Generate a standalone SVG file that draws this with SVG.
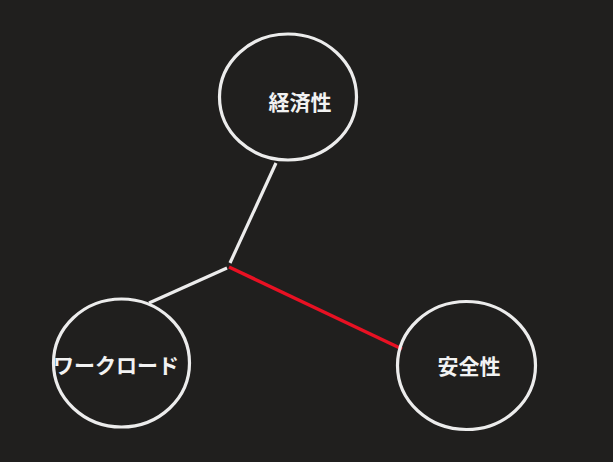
<svg xmlns="http://www.w3.org/2000/svg" width="613" height="462" viewBox="0 0 613 462">
<style>
.node{fill:none;stroke:#ececec;stroke-width:3.2}
.lbl{font-family:"Noto Sans CJK JP","Noto Sans",sans-serif;font-size:21px;font-weight:bold;fill:#f2f2f2;text-anchor:middle;dominant-baseline:central}
.edge{stroke:#ececec;stroke-width:3.2;fill:none}
.hot{stroke:#e81123;stroke-width:3.5;fill:none}
</style>
<rect width="613" height="462" fill="#201f1e"/>
<g id="connectors">
<line class="edge" x1="230" y1="263" x2="276" y2="163"/>
<line class="edge" x1="227" y1="268" x2="149" y2="303"/>
<line class="hot" x1="229" y1="267" x2="402" y2="349"/>
</g>
<g id="node-economy">
<ellipse class="node" cx="288" cy="97" rx="68.5" ry="63"/>
<text class="lbl" x="300" y="101">経済性</text>
</g>
<g id="node-workload">
<ellipse class="node" cx="121.5" cy="363" rx="68" ry="64"/>
<text class="lbl" x="116" y="364">ワークロード</text>
</g>
<g id="node-safety">
<ellipse class="node" cx="466.5" cy="365.5" rx="69" ry="64"/>
<text class="lbl" x="469" y="365">安全性</text>
</g>
</svg>
